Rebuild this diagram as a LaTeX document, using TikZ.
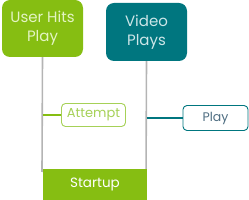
\documentclass[tikz,border=0pt]{standalone}
\usepackage{fontspec}
\setmainfont{Poppins}
\definecolor{lgreen}{HTML}{86BE12}
\definecolor{teal2}{HTML}{00767F}
\definecolor{paleg}{HTML}{E4F4C4}
\definecolor{palet}{HTML}{CDE6E8}
\definecolor{attg}{HTML}{A6D157}
\definecolor{playtxt}{HTML}{4F6E82}
\definecolor{gline}{HTML}{B4B4B4}
\begin{document}
\begin{tikzpicture}[x=1pt,y=-1pt,
  bigbox/.style={rounded corners=8pt, minimum width=81pt, inner sep=0pt, align=center, font=\fontsize{15}{19}\selectfont},
  smallbox/.style={rounded corners=4pt, draw, line width=0.9pt, fill=white, inner sep=0pt, font=\fontsize{13}{15}\selectfont},
  stem/.style={gline, line width=1.6pt}]
\useasboundingbox (0,0) rectangle (249,200);
\node[bigbox, fill=lgreen, text=paleg, minimum height=57pt] (uhp) at (42.5,28.5) {User Hits\\Play};
\node[bigbox, fill=teal2, text=palet, minimum height=58pt] (vp) at (146.5,32) {Video\\Plays};
\coordinate (e1) at (42,172);
\coordinate (e2) at (146,185);
\draw[stem] (uhp.south) -- (e1);
\draw[stem] (vp.south) -- (e2);
\node[smallbox, draw=attg, text=attg, minimum width=64pt, minimum height=23pt] (att) at (93.5,115) {Attempt};
\node[smallbox, draw=teal2, text=playtxt, minimum width=65pt, minimum height=25pt, font=\fontsize{12.5}{15}\selectfont] (play) at (215.5,118) {Play};
\draw[lgreen, line width=1.4pt] (uhp.south |- att.west) -- (att.west);
\draw[teal2, line width=1.4pt] (vp.south |- play.west) -- (play.west);
\node[fill=lgreen, text=white, minimum width=104pt, minimum height=31pt, inner sep=0pt, font=\fontsize{13.5}{15}\selectfont] (st) at (95,184.5) {Startup};
\end{tikzpicture}
\end{document}
